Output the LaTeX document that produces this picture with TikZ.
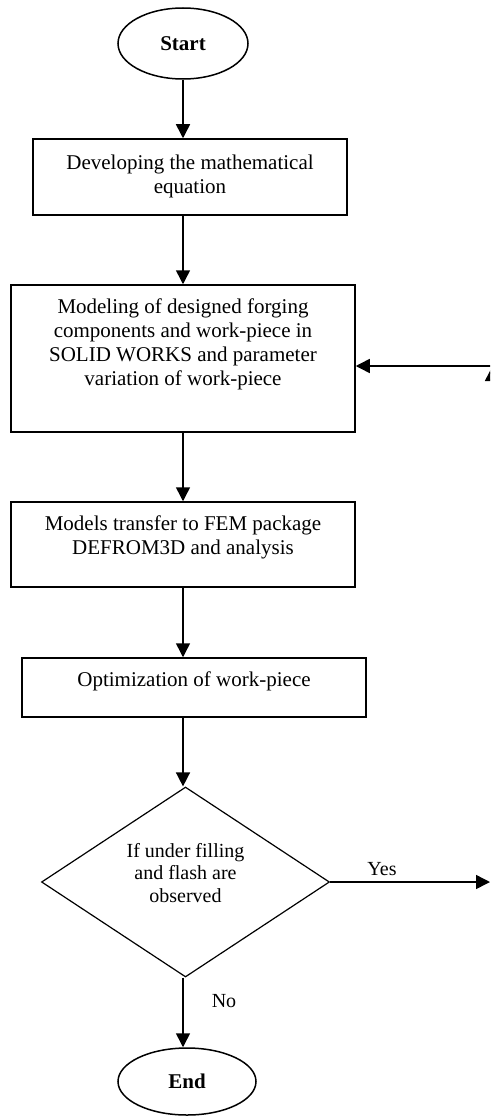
\documentclass[tikz,border=0pt]{standalone}
\usepackage{fontspec}
\setmainfont{Liberation Serif}
\usetikzlibrary{shapes.geometric,arrows.meta,positioning}

\begin{document}
\begin{tikzpicture}[x=1pt,y=-1pt,line width=1.5pt,
  >={Triangle[length=14pt,width=14pt]},
  term/.style={draw,ellipse,inner sep=0pt,font=\fontsize{21}{24}\selectfont\bfseries},
  box/.style={draw,rectangle,inner sep=0pt},
  txt/.style={align=center,inner sep=0pt,font=\fontsize{21}{24}\selectfont},
  small/.style={align=center,inner sep=0pt,font=\fontsize{20}{22.5}\selectfont}]
\clip (0,0) rectangle (490,1118);

% terminals and boxes
\node[term,minimum width=130pt,minimum height=71pt] (start) at (183,43.5) {Start};
\node[box,minimum width=314pt,minimum height=76pt] (dev) at (190,177) {};
\node[box,minimum width=344pt,minimum height=147pt] (model) at (183,358.5) {};
\node[box,minimum width=344pt,minimum height=85pt] (fem) at (183,544.5) {};
\node[box,minimum width=344pt,minimum height=59pt] (opt) at (194,687.5) {};
\node[draw,diamond,inner sep=0pt,line width=1.2pt,minimum width=288pt,minimum height=190pt] (dec) at (185.5,882) {};
\node[term,minimum width=138pt,minimum height=67pt] (end) at (187,1081.5) {End};

% texts
\node[txt,below=15.5pt of dev.north] (devtxt) {Developing the mathematical\\equation};
\node[txt,below=13.7pt of model.north] (modeltxt) {Modeling of designed forging\\components and work-piece in\\SOLID WORKS and parameter\\variation of work-piece};
\node[txt,below=13.7pt of fem.north] (femtxt) {Models transfer to FEM package\\DEFROM3D and analysis};
\node[txt,below=13.7pt of opt.north] (opttxt) {Optimization of work-piece};
\node[small] (dectxt) at (185.5,873) {If under filling\\and flash are\\observed};
\node[small] (yes) at (382,869) {Yes};
\node[small] (no) at (224,1001) {No};

% flow
\draw[->] (start.south) -- (dev.north -| start.south);
\draw[->] (dev.south -| start) -- (model.north -| start);
\draw[->] (model.south -| start) -- (fem.north -| start);
\draw[->] (fem.south -| start) -- (opt.north -| start);
\draw[->] (opt.south -| start) -- (dec.north -| start);
\draw[->] (dec.south -| start) -- (end.north -| start);

% loop back
\coordinate (yesend) at (490,882);
\coordinate (loopbot) at (492,882);
\coordinate (looptop) at (492,367);
\coordinate (back) at (492,366);
\draw[->] (dec.east) -- (yesend);
\draw[->] (loopbot) -- (looptop);
\draw[->] (back) -- (model.east |- back);
\end{tikzpicture}
\end{document}
